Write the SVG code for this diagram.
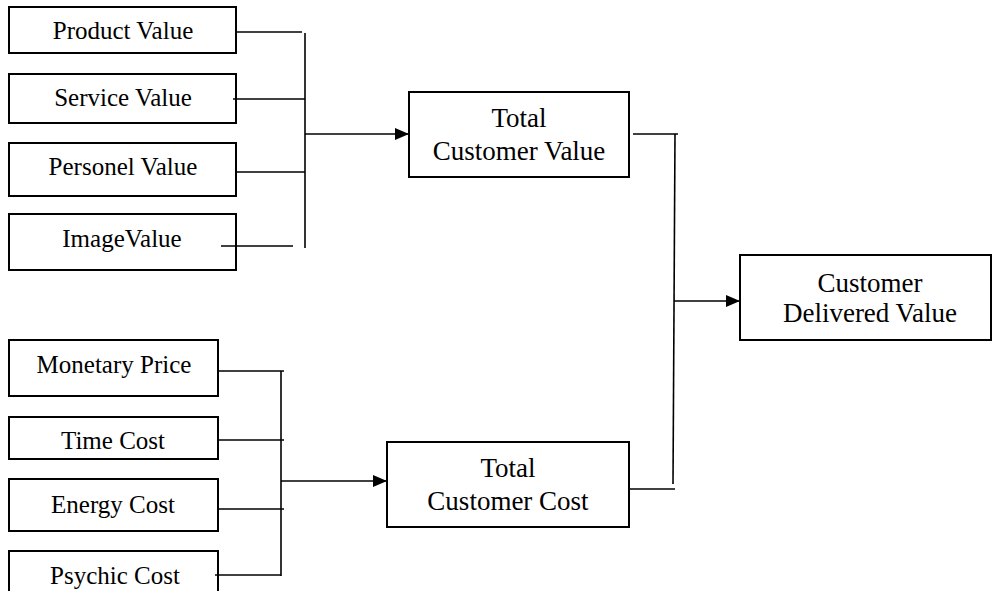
<svg xmlns="http://www.w3.org/2000/svg" width="993" height="591" viewBox="0 0 993 591">
  <style>
    .box { fill: #ffffff; stroke: #000000; stroke-width: 2; }
    .lbl { font-family: "Liberation Serif", "Times New Roman", serif; font-size: 25px; fill: #000000; text-anchor: middle; }
    .big { font-size: 27px; }
    .wire { fill: none; stroke: #000000; stroke-width: 1.6; }
  </style>
  <defs>
    <marker id="arrow" viewBox="0 0 14 12" refX="14" refY="6" markerWidth="14" markerHeight="12" markerUnits="userSpaceOnUse" orient="auto">
      <path d="M0,0 L14,6 L0,12 Z" fill="#000000"/>
    </marker>
  </defs>
  <rect width="993" height="591" fill="#ffffff"/>

  <!-- value inputs -->
  <g id="product-value">
    <rect class="box" x="9" y="7" width="227" height="46"/>
    <text class="lbl" x="123" y="39">Product Value</text>
  </g>
  <g id="service-value">
    <rect class="box" x="9" y="74" width="227" height="49"/>
    <text class="lbl" x="123" y="106">Service Value</text>
  </g>
  <g id="personel-value">
    <rect class="box" x="9" y="143" width="227" height="53"/>
    <text class="lbl" x="123" y="175">Personel Value</text>
  </g>
  <g id="image-value">
    <rect class="box" x="9" y="214" width="227" height="56"/>
    <text class="lbl" x="122" y="247">ImageValue</text>
  </g>

  <!-- cost inputs -->
  <g id="monetary-price">
    <rect class="box" x="9" y="340" width="209" height="56"/>
    <text class="lbl" x="114" y="373">Monetary Price</text>
  </g>
  <g id="time-cost">
    <rect class="box" x="9" y="417" width="209" height="42"/>
    <text class="lbl" x="113" y="449">Time Cost</text>
  </g>
  <g id="energy-cost">
    <rect class="box" x="9" y="479" width="209" height="52"/>
    <text class="lbl" x="113" y="513">Energy Cost</text>
  </g>
  <g id="psychic-cost">
    <rect class="box" x="9" y="551" width="209" height="60"/>
    <text class="lbl" x="115" y="584">Psychic Cost</text>
  </g>

  <!-- totals -->
  <g id="total-customer-value">
    <rect class="box" x="409" y="92" width="220" height="85"/>
    <text class="lbl big" x="519" y="127">Total</text>
    <text class="lbl big" x="519" y="160">Customer Value</text>
  </g>
  <g id="total-customer-cost">
    <rect class="box" x="387" y="442" width="242" height="85"/>
    <text class="lbl big" x="508" y="477">Total</text>
    <text class="lbl big" x="508" y="510">Customer Cost</text>
  </g>
  <g id="customer-delivered-value">
    <rect class="box" x="740" y="255" width="251" height="85"/>
    <text class="lbl big" x="870" y="292">Customer</text>
    <text class="lbl big" x="870" y="322">Delivered Value</text>
  </g>

  <g id="connectors">
    <!-- value bus -->
    <line class="wire" x1="236" y1="32" x2="302" y2="32"/>
    <line class="wire" x1="233" y1="99" x2="305" y2="99"/>
    <line class="wire" x1="237" y1="172" x2="305" y2="172"/>
    <line class="wire" x1="221" y1="246" x2="293" y2="246"/>
    <line class="wire" x1="305" y1="33" x2="305" y2="248"/>
    <line class="wire" x1="305" y1="134" x2="409" y2="134" marker-end="url(#arrow)"/>

    <!-- cost bus -->
    <line class="wire" x1="218" y1="371" x2="284" y2="371"/>
    <line class="wire" x1="218" y1="440" x2="284" y2="440"/>
    <line class="wire" x1="218" y1="509" x2="284" y2="509"/>
    <line class="wire" x1="215" y1="575" x2="281" y2="575"/>
    <line class="wire" x1="281" y1="371" x2="281" y2="576"/>
    <line class="wire" x1="281" y1="481" x2="387" y2="481" marker-end="url(#arrow)"/>

    <!-- totals into delivered value -->
    <line class="wire" x1="633" y1="134" x2="678" y2="134"/>
    <line class="wire" x1="629" y1="489" x2="675" y2="489"/>
    <line class="wire" x1="675" y1="134" x2="673" y2="484"/>
    <line class="wire" x1="674" y1="301" x2="740" y2="301" marker-end="url(#arrow)"/>
  </g>
</svg>
